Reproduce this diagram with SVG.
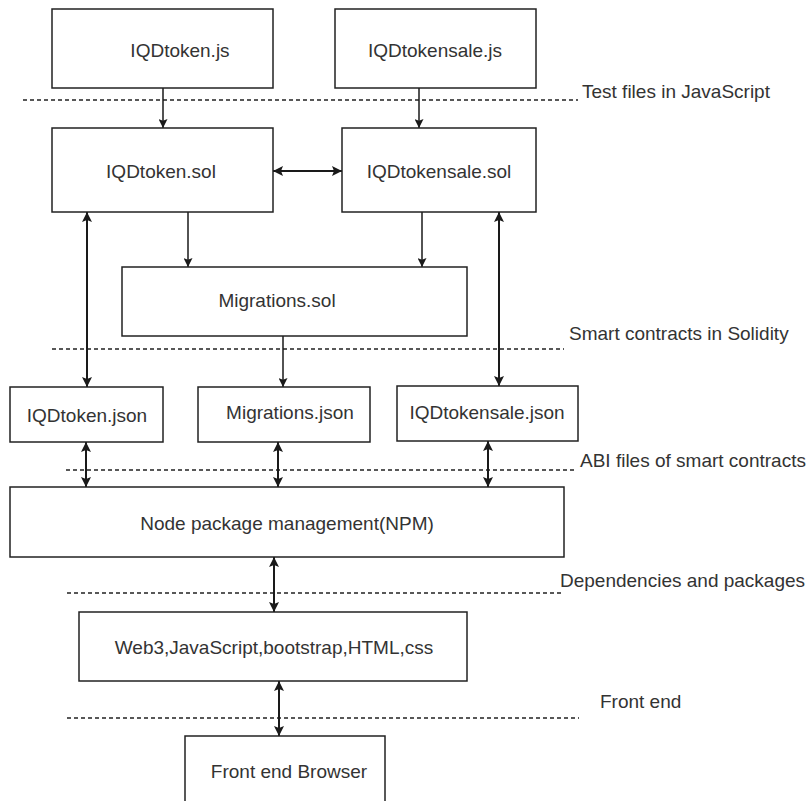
<svg xmlns="http://www.w3.org/2000/svg" width="811" height="801" viewBox="0 0 811 801">
<defs>
<style>
.box{fill:#fff;stroke:#222;stroke-width:1.5}
.t{font-family:"Liberation Sans",Arial,sans-serif;font-size:19px;fill:#333;text-anchor:middle}
.lbl{font-family:"Liberation Sans",Arial,sans-serif;font-size:19px;fill:#333}
.c{stroke:#1a1a1a;stroke-width:1.5;fill:none;marker-end:url(#ah)}
.b{stroke:#1a1a1a;stroke-width:2;fill:none;marker-end:url(#ah2);marker-start:url(#ah2)}
.d{stroke:#222;stroke-width:1.3;stroke-dasharray:4 3;fill:none}
</style>
<marker id="ah" viewBox="0 0 10 10" refX="10" refY="5" markerUnits="userSpaceOnUse" markerWidth="9" markerHeight="9" orient="auto-start-reverse">
<path d="M0,0 L10,5 L0,10 L2,5 z" fill="#1a1a1a"/>
</marker>
<marker id="ah2" viewBox="0 0 10 10" refX="10" refY="5" markerUnits="userSpaceOnUse" markerWidth="10" markerHeight="10" orient="auto-start-reverse">
<path d="M0,0 L10,5 L0,10 L2,5 z" fill="#1a1a1a"/>
</marker>
</defs>
<rect width="811" height="801" fill="#fff"/>

<g id="separators">
<line class="d" x1="23" y1="100" x2="578" y2="100"/>
<text class="lbl" x="582" y="98">Test files in JavaScript</text>
<line class="d" x1="52" y1="349" x2="564" y2="349"/>
<text class="lbl" x="569" y="340">Smart contracts in Solidity</text>
<line class="d" x1="66" y1="470" x2="577" y2="470"/>
<text class="lbl" x="580" y="467">ABI files of smart contracts</text>
<line class="d" x1="67" y1="593" x2="561" y2="593"/>
<text class="lbl" x="560" y="587">Dependencies and packages</text>
<line class="d" x1="67" y1="718" x2="579" y2="718"/>
<text class="lbl" x="600" y="708">Front end</text>
</g>

<g id="connectors">
<line class="c" x1="163" y1="88" x2="163" y2="128"/>
<line class="c" x1="419" y1="88" x2="419" y2="128"/>
<line class="b" x1="273" y1="171" x2="342" y2="171"/>
<line class="b" x1="87" y1="212" x2="87" y2="387"/>
<line class="b" x1="499" y1="212" x2="499" y2="386"/>
<line class="c" x1="188" y1="212" x2="188" y2="267"/>
<line class="c" x1="422" y1="212" x2="422" y2="267"/>
<line class="c" x1="283" y1="336" x2="283" y2="387"/>
<line class="b" x1="86" y1="442" x2="86" y2="487"/>
<line class="b" x1="278" y1="442" x2="278" y2="487"/>
<line class="b" x1="488" y1="441" x2="488" y2="487"/>
<line class="b" x1="274" y1="557" x2="274" y2="612"/>
<line class="b" x1="279" y1="681" x2="279" y2="736"/>
</g>

<g id="iqdtoken-js">
<rect class="box" x="52" y="9" width="221" height="79"/>
<text class="t" x="180" y="57">IQDtoken.js</text>
</g>
<g id="iqdtokensale-js">
<rect class="box" x="335" y="9" width="201" height="79"/>
<text class="t" x="435" y="57">IQDtokensale.js</text>
</g>
<g id="iqdtoken-sol">
<rect class="box" x="52" y="128" width="221" height="84"/>
<text class="t" x="161" y="178">IQDtoken.sol</text>
</g>
<g id="iqdtokensale-sol">
<rect class="box" x="342" y="128" width="194" height="84"/>
<text class="t" x="439" y="178">IQDtokensale.sol</text>
</g>
<g id="migrations-sol">
<rect class="box" x="122" y="267" width="345" height="69"/>
<text class="t" x="277" y="307">Migrations.sol</text>
</g>
<g id="iqdtoken-json">
<rect class="box" x="10" y="387" width="153" height="55"/>
<text class="t" x="87" y="422">IQDtoken.json</text>
</g>
<g id="migrations-json">
<rect class="box" x="198" y="387" width="172" height="55"/>
<text class="t" x="290" y="419">Migrations.json</text>
</g>
<g id="iqdtokensale-json">
<rect class="box" x="397" y="386" width="181" height="55"/>
<text class="t" x="487" y="419">IQDtokensale.json</text>
</g>
<g id="npm">
<rect class="box" x="10" y="487" width="554" height="70"/>
<text class="t" x="287" y="530">Node package management(NPM)</text>
</g>
<g id="web3">
<rect class="box" x="79" y="612" width="388" height="69"/>
<text class="t" x="274" y="654">Web3,JavaScript,bootstrap,HTML,css</text>
</g>
<g id="browser">
<rect class="box" x="185" y="736" width="200" height="80"/>
<text class="t" x="289" y="778">Front end Browser</text>
</g>
</svg>
